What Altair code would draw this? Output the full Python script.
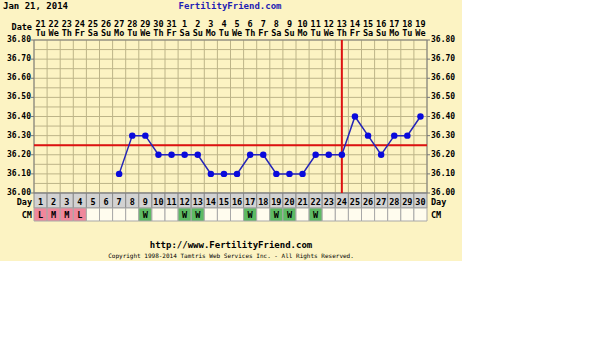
import altair as alt
import pandas as pd

# ---------------- data ----------------
days = list(range(1, 31))
dates = ["21", "22", "23", "24", "25", "26", "27", "28", "29", "30", "31",
         "1", "2", "3", "4", "5", "6", "7", "8", "9", "10", "11", "12", "13",
         "14", "15", "16", "17", "18", "19"]
weekdays = ["Tu", "We", "Th", "Fr", "Sa", "Su", "Mo", "Tu", "We", "Th", "Fr",
            "Sa", "Su", "Mo", "Tu", "We", "Th", "Fr", "Sa", "Su", "Mo", "Tu",
            "We", "Th", "Fr", "Sa", "Su", "Mo", "Tu", "We"]
temp_days = list(range(7, 31))
temps = [36.10, 36.30, 36.30, 36.20, 36.20, 36.20, 36.20, 36.10, 36.10, 36.10,
         36.20, 36.20, 36.10, 36.10, 36.10, 36.20, 36.20, 36.20, 36.40, 36.30,
         36.20, 36.30, 36.30, 36.40]
cm = ["L", "M", "M", "L", "", "", "", "", "W", "", "", "W", "W", "", "", "",
      "W", "", "W", "W", "", "W", "", "", "", "", "", "", "", ""]
coverline = 36.25
ovulation_day = 24
temp_ticks = [36.00, 36.10, 36.20, 36.30, 36.40, 36.50, 36.60, 36.70, 36.80]
y_lo, y_hi = 36.00, 36.80

header_left = "Jan 21, 2014"
header_site = "FertilityFriend.com"
footer_url = "http://www.FertilityFriend.com"
footer_copy = "Copyright 1998-2014 Tamtris Web Services Inc. - All Rights Reserved."

# ---------------- styling ----------------
FONT = "DejaVu Sans Mono"
CREAM = "#FCF3C3"
GRID = "#BDB488"
W, H = 393, 153
FS = 8.5

xs = alt.Scale(domain=[0.5, 30.5], nice=False, zero=False)
ys = alt.Scale(domain=[y_lo, y_hi], nice=False, zero=False)

day_df = pd.DataFrame({"day": days, "date": dates, "wd": weekdays, "cm": cm,
                       "x0": [d - 0.5 for d in days], "x1": [d + 0.5 for d in days]})
temp_df = pd.DataFrame({"day": temp_days, "temp": temps})
vgrid_df = pd.DataFrame({"b": [d - 0.5 for d in days] + [30.5]})
vgrid_df["y0"] = y_lo
vgrid_df["y1"] = y_hi
hgrid_df = pd.DataFrame({"t": [round(y_lo + 0.05 * i, 2) for i in range(17)]})
hgrid_df["x0"] = 0.5
hgrid_df["x1"] = 30.5
tick_df = pd.DataFrame({"t": temp_ticks, "lab": [f"{v:.2f}" for v in temp_ticks]})
cover_df = pd.DataFrame({"t": [coverline], "x0": [0.5], "x1": [30.5]})
ovu_df = pd.DataFrame({"d": [ovulation_day], "y0": [y_lo], "y1": [y_hi]})
one = pd.DataFrame({"a": [0]})

cm_color = alt.Color("cm:N", legend=None,
                     scale=alt.Scale(domain=["", "L", "M", "W"],
                                     range=["#FFFCEE", "#F0879B", "#F0879B", "#5DBA63"]))

bg = alt.Chart(one).mark_rect(color=CREAM).encode(
    x=alt.value(-34), x2=alt.value(428), y=alt.value(-40), y2=alt.value(221))

vgrid = alt.Chart(vgrid_df).mark_rule(color=GRID, strokeWidth=1).encode(
    x=alt.X("b:Q", scale=xs, axis=None),
    y=alt.Y("y0:Q", scale=ys, axis=None), y2="y1:Q")

hgrid = alt.Chart(hgrid_df).mark_rule(color=GRID, strokeWidth=1).encode(
    y=alt.Y("t:Q", scale=ys, axis=None),
    x=alt.X("x0:Q", scale=xs, axis=None), x2="x1:Q")

lticks = alt.Chart(tick_df).mark_rule(color="#777", strokeWidth=1).encode(
    y=alt.Y("t:Q", scale=ys, axis=None), x=alt.value(-3), x2=alt.value(0))
rticks = alt.Chart(tick_df).mark_rule(color="#777", strokeWidth=1).encode(
    y=alt.Y("t:Q", scale=ys, axis=None), x=alt.value(W), x2=alt.value(W + 3))
llabels = alt.Chart(tick_df).mark_text(font=FONT, fontWeight="bold", fontSize=8,
                                       color="black", align="right", baseline="middle").encode(
    y=alt.Y("t:Q", scale=ys, axis=None), x=alt.value(-3), text="lab:N")
rlabels = alt.Chart(tick_df).mark_text(font=FONT, fontWeight="bold", fontSize=8,
                                       color="black", align="left", baseline="middle").encode(
    y=alt.Y("t:Q", scale=ys, axis=None), x=alt.value(W + 4), text="lab:N")

border = alt.Chart(one).mark_rect(fill="transparent", stroke="#808080", strokeWidth=1).encode(
    x=alt.value(0), x2=alt.value(W), y=alt.value(0), y2=alt.value(H))

day_cells = alt.Chart(day_df).mark_rect(fill="#D2D2D2", stroke="#8C8C8C", strokeWidth=1).encode(
    x=alt.X("x0:Q", scale=xs, axis=None), x2="x1:Q",
    y=alt.value(H), y2=alt.value(H + 15))
day_text = alt.Chart(day_df).mark_text(font=FONT, fontWeight="bold", fontSize=FS,
                                       color="black", baseline="middle").encode(
    x=alt.X("day:Q", scale=xs, axis=None), y=alt.value(H + 8.5), text="day:N")

cm_cells = alt.Chart(day_df).mark_rect(stroke="#A8A8A8", strokeWidth=1).encode(
    x=alt.X("x0:Q", scale=xs, axis=None), x2="x1:Q",
    y=alt.value(H + 15), y2=alt.value(H + 28), color=cm_color)
cm_text = alt.Chart(day_df).mark_text(font=FONT, fontWeight="bold", fontSize=FS,
                                      color="black", baseline="middle").encode(
    x=alt.X("day:Q", scale=xs, axis=None), y=alt.value(H + 22), text="cm:N")

cover = alt.Chart(cover_df).mark_rule(color="#DD1111", strokeWidth=2).encode(
    y=alt.Y("t:Q", scale=ys, axis=None),
    x=alt.X("x0:Q", scale=xs, axis=None), x2="x1:Q")
ovu = alt.Chart(ovu_df).mark_rule(color="#DD1111", strokeWidth=2).encode(
    x=alt.X("d:Q", scale=xs, axis=None),
    y=alt.Y("y0:Q", scale=ys, axis=None), y2="y1:Q")

line = alt.Chart(temp_df).mark_line(color="#2424B8", strokeWidth=1.5).encode(
    x=alt.X("day:Q", scale=xs, axis=None),
    y=alt.Y("temp:Q", scale=ys, axis=None))
pts = alt.Chart(temp_df).mark_circle(color="#0A0ADC", opacity=1, size=42).encode(
    x=alt.X("day:Q", scale=xs, axis=None),
    y=alt.Y("temp:Q", scale=ys, axis=None))

date_text = alt.Chart(day_df).mark_text(font=FONT, fontWeight="bold", fontSize=FS,
                                        color="black", baseline="middle").encode(
    x=alt.X("day:Q", scale=xs, axis=None), y=alt.value(-16.5), text="date:N")
wd_text = alt.Chart(day_df).mark_text(font=FONT, fontWeight="bold", fontSize=FS,
                                      color="black", baseline="middle").encode(
    x=alt.X("day:Q", scale=xs, axis=None), y=alt.value(-7.5), text="wd:N")

def label(txt, x, y, align="left", size=FS, color="black", weight="bold"):
    return alt.Chart(pd.DataFrame({"t": [txt]})).mark_text(
        font=FONT, fontWeight=weight, fontSize=size, color=color,
        align=align, baseline="middle").encode(
        x=alt.value(x), y=alt.value(y), text="t:N")

labels = [
    label("Date", -2, -13, "right"),
    label("Day", -2, H + 9, "right"),
    label("CM", -2, H + 22, "right"),
    label("Day", W + 4, H + 9, "left"),
    label("CM", W + 4, H + 22, "left"),
    label(header_left, -31, -34, "left", 9),
    label(header_site, 196, -34, "center", 9, "#1E1EB4"),
    label(footer_url, 197, 205, "center", 9),
    label(footer_copy, 197, 216, "center", 6, "black", "normal"),
]

chart = alt.layer(
    bg, vgrid, hgrid, day_cells, cm_cells, day_text, cm_text, border,
    lticks, rticks, llabels, rlabels,
    cover, ovu, line, pts, date_text, wd_text, *labels
).properties(
    width=W, height=H,
    autosize=alt.AutoSizeParams(type="none"),
    padding={"left": 34, "top": 40, "right": 600 - 34 - W, "bottom": 337 - 40 - H},
    background="white",
).configure_view(stroke=None)

chart.save("out.html", embed_options={"renderer": "svg", "actions": False})
